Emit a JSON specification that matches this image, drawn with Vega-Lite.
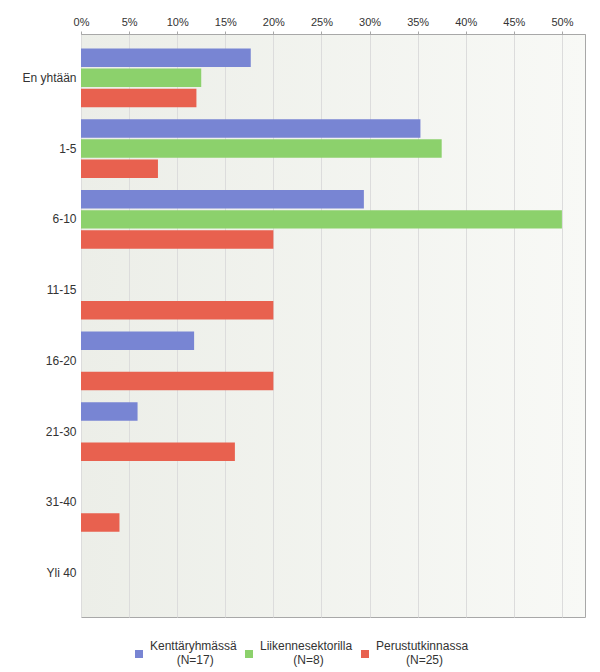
{
  "$schema": "https://vega.github.io/schema/vega-lite/v6.json",
  "width": 504,
  "height": 583,
  "autosize": "none",
  "padding": {"left": 81, "top": 34, "right": 15, "bottom": 55},
  "background": "white",
  "config": {
    "font": "Liberation Sans",
    "view": {
      "stroke": "#a8a8a8",
      "strokeWidth": 1,
      "fill": {"gradient": "linear", "x1": 0, "y1": 0, "x2": 1, "y2": 0, "stops": [{"offset": 0, "color": "#eceee8"}, {"offset": 1, "color": "#f8f9f6"}]}
    }
  },
  "data": {
    "values": [
      {"cat": "En yhtään", "series": "Kenttäryhmässä (N=17)", "value": 0.1765},
      {"cat": "En yhtään", "series": "Liikennesektorilla (N=8)", "value": 0.125},
      {"cat": "En yhtään", "series": "Perustutkinnassa (N=25)", "value": 0.12},
      {"cat": "1-5", "series": "Kenttäryhmässä (N=17)", "value": 0.3529},
      {"cat": "1-5", "series": "Liikennesektorilla (N=8)", "value": 0.375},
      {"cat": "1-5", "series": "Perustutkinnassa (N=25)", "value": 0.08},
      {"cat": "6-10", "series": "Kenttäryhmässä (N=17)", "value": 0.2941},
      {"cat": "6-10", "series": "Liikennesektorilla (N=8)", "value": 0.5},
      {"cat": "6-10", "series": "Perustutkinnassa (N=25)", "value": 0.2},
      {"cat": "11-15", "series": "Kenttäryhmässä (N=17)", "value": 0},
      {"cat": "11-15", "series": "Liikennesektorilla (N=8)", "value": 0},
      {"cat": "11-15", "series": "Perustutkinnassa (N=25)", "value": 0.2},
      {"cat": "16-20", "series": "Kenttäryhmässä (N=17)", "value": 0.1176},
      {"cat": "16-20", "series": "Liikennesektorilla (N=8)", "value": 0},
      {"cat": "16-20", "series": "Perustutkinnassa (N=25)", "value": 0.2},
      {"cat": "21-30", "series": "Kenttäryhmässä (N=17)", "value": 0.0588},
      {"cat": "21-30", "series": "Liikennesektorilla (N=8)", "value": 0},
      {"cat": "21-30", "series": "Perustutkinnassa (N=25)", "value": 0.16},
      {"cat": "31-40", "series": "Kenttäryhmässä (N=17)", "value": 0},
      {"cat": "31-40", "series": "Liikennesektorilla (N=8)", "value": 0},
      {"cat": "31-40", "series": "Perustutkinnassa (N=25)", "value": 0.04},
      {"cat": "Yli 40", "series": "Kenttäryhmässä (N=17)", "value": 0},
      {"cat": "Yli 40", "series": "Liikennesektorilla (N=8)", "value": 0},
      {"cat": "Yli 40", "series": "Perustutkinnassa (N=25)", "value": 0}
    ]
  },
  "mark": {"type": "bar", "opacity": 1},
  "encoding": {
    "y": {
      "field": "cat", "type": "nominal", "sort": null,
      "scale": {"paddingInner": 0, "paddingOuter": 0.12},
      "axis": {"title": null, "ticks": false, "domain": false, "labelFontSize": 12, "labelColor": "#333333", "labelPadding": 5, "labelFont": "Liberation Sans"}
    },
    "yOffset": {
      "field": "series", "type": "nominal", "sort": null,
      "scale": {"paddingInner": 0.08, "paddingOuter": 0.3}
    },
    "x": {
      "field": "value", "type": "quantitative",
      "scale": {"domain": [0, 0.524], "nice": false, "zero": true},
      "axis": {
        "orient": "top", "title": null, "format": ".0%",
        "values": [0, 0.05, 0.1, 0.15, 0.2, 0.25, 0.3, 0.35, 0.4, 0.45, 0.5],
        "labelFontSize": 11, "labelColor": "#333333", "labelPadding": 4,
        "tickSize": 3, "tickColor": "#a8a8a8", "domainColor": "#a8a8a8",
        "gridColor": "#dcdcdc", "grid": true, "labelFlush": false
      }
    },
    "color": {
      "field": "series", "type": "nominal", "sort": null,
      "scale": {"range": ["#7885d3", "#8cd16c", "#e8614f"]},
      "legend": {
        "orient": "none", "legendX": 52, "legendY": 606,
        "direction": "horizontal", "title": null,
        "symbolType": "M -1 1 H 1 V 3 H -1 Z", "symbolSize": 64, "symbolStrokeWidth": 0, "symbolOpacity": 1,
        "labelExpr": "[split(datum.label, ' (')[0], '\u200b' + (indexof(datum.label, 'Kentt') >= 0 ? '\u00a0\u00a0\u00a0\u00a0\u00a0\u00a0\u00a0\u00a0' : indexof(datum.label, 'Liik') >= 0 ? '\u00a0\u00a0\u00a0\u00a0\u00a0\u00a0\u00a0\u00a0\u00a0\u00a0' : '\u00a0\u00a0\u00a0\u00a0\u00a0\u00a0\u00a0\u00a0\u00a0') + '(' + split(datum.label, ' (')[1]]",
        "labelFontSize": 12, "labelColor": "#333333", "labelOffset": 5,
        "columnPadding": 6, "labelLimit": 200
      }
    }
  }
}
